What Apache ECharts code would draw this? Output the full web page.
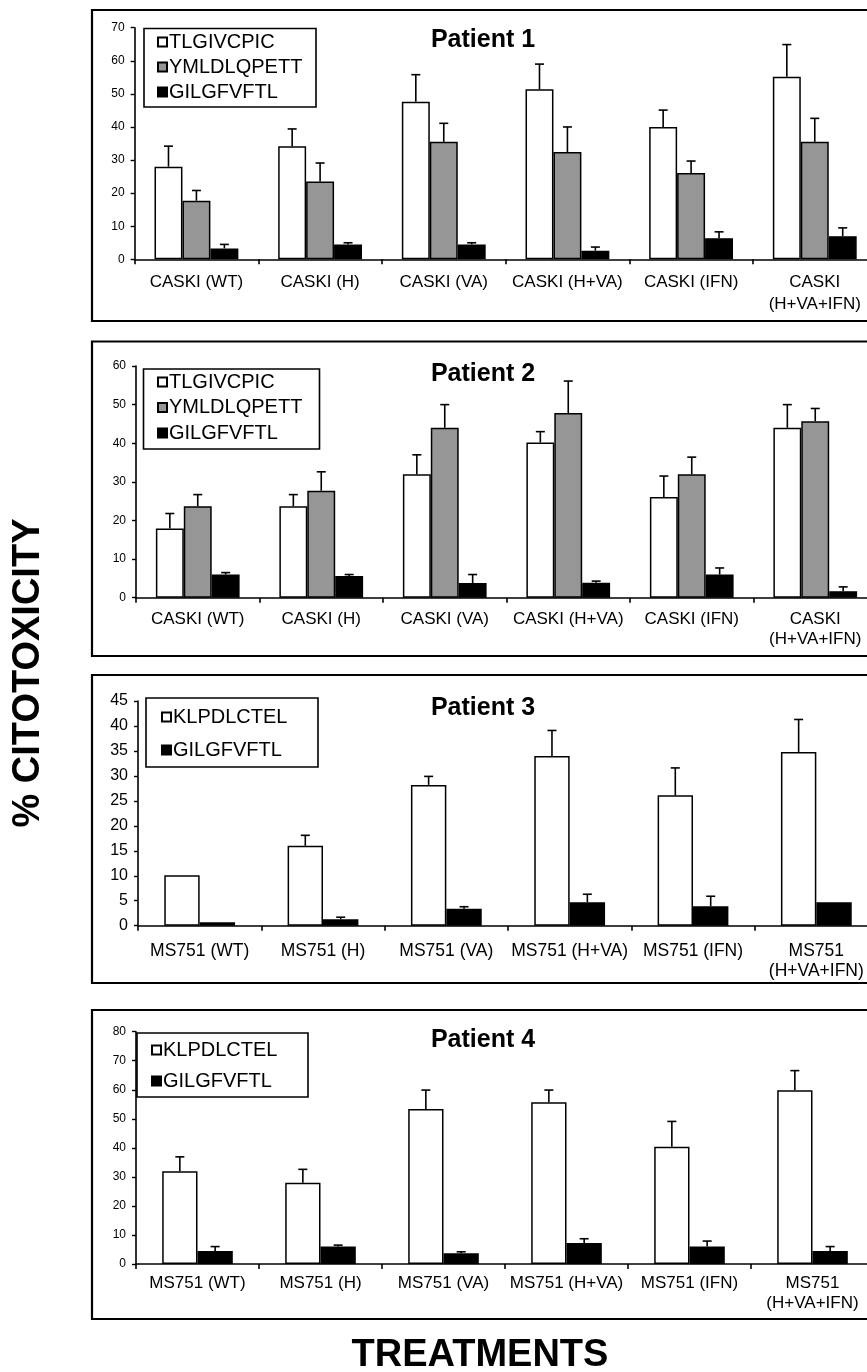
<!DOCTYPE html>
<html>
<head>
<meta charset="utf-8">
<script src="https://cdn.jsdelivr.net/npm/echarts@6/dist/echarts.min.js"></script>
<style>
html,body{margin:0;padding:0;background:#fff;overflow:hidden;}
#chart{width:867px;height:1372px;}
</style>
</head>
<body>
<div id="chart"></div>
<script>
// ---------- DATA ----------
const catsCaski = ['CASKI (WT)', 'CASKI (H)', 'CASKI (VA)', 'CASKI (H+VA)', 'CASKI (IFN)', 'CASKI\n(H+VA+IFN)'];
const catsMs751 = ['MS751 (WT)', 'MS751 (H)', 'MS751 (VA)', 'MS751 (H+VA)', 'MS751 (IFN)', 'MS751\n(H+VA+IFN)'];

const panelTitles = ['Patient 1', 'Patient 2', 'Patient 3', 'Patient 4'];
const yMax = [70, 60, 45, 80];
const yStep = [10, 10, 5, 10];

// Patient 1
const p1_TLGIVCPIC = [28, 34.2, 47.6, 51.4, 40, 55.2];
const p1_TLGIVCPIC_err = [6.2, 5.2, 8.2, 7.6, 5.1, 9.7];
const p1_YMLDLQPETT = [17.7, 23.5, 35.5, 32.4, 26.1, 35.5];
const p1_YMLDLQPETT_err = [3.1, 5.6, 5.6, 7.6, 3.6, 7.1];
const p1_GILGFVFTL = [3.3, 4.5, 4.5, 2.6, 6.4, 7.0];
const p1_GILGFVFTL_err = [1.2, 0.5, 0.5, 1.1, 1.9, 2.5];

// Patient 2
const p2_TLGIVCPIC = [17.9, 23.7, 32.0, 40.2, 26.1, 44.0];
const p2_TLGIVCPIC_err = [3.9, 3.0, 5.0, 2.8, 5.4, 6.0];
const p2_YMLDLQPETT = [23.7, 27.7, 44.0, 47.8, 32.0, 45.7];
const p2_YMLDLQPETT_err = [3.0, 4.9, 6.0, 8.3, 4.4, 3.3];
const p2_GILGFVFTL = [6.0, 5.6, 3.8, 3.9, 6.0, 1.7];
const p2_GILGFVFTL_err = [0.5, 0.4, 2.2, 0.4, 1.7, 1.1];

// Patient 3
const p3_KLPDLCTEL = [10.1, 16.0, 28.2, 34.0, 26.1, 34.8];
const p3_KLPDLCTEL_err = [0, 2.1, 1.7, 5.1, 5.5, 6.5];
const p3_GILGFVFTL = [0.7, 1.3, 3.4, 4.7, 3.9, 4.7];
const p3_GILGFVFTL_err = [0, 0.4, 0.4, 1.6, 2.0, 0];

// Patient 4
const p4_KLPDLCTEL = [31.9, 28.0, 53.4, 55.7, 40.4, 59.8];
const p4_KLPDLCTEL_err = [5.0, 4.6, 6.5, 4.2, 8.7, 6.8];
const p4_GILGFVFTL = [4.5, 6.0, 3.7, 7.2, 6.0, 4.5];
const p4_GILGFVFTL_err = [1.5, 0.5, 0.5, 1.5, 1.9, 1.5];

const yAxisTitle = '% CITOTOXICITY';
const xAxisTitle = 'TREATMENTS';

// ---------- STYLE / LAYOUT ----------
const FONT = 'Liberation Sans, Arial, Helvetica, sans-serif';
const fills = {TLGIVCPIC: '#ffffff', YMLDLQPETT: '#969696', KLPDLCTEL: '#ffffff', GILGFVFTL: '#000000'};

const panels = [
  {cats: catsCaski, series: [['TLGIVCPIC', p1_TLGIVCPIC, p1_TLGIVCPIC_err], ['YMLDLQPETT', p1_YMLDLQPETT, p1_YMLDLQPETT_err], ['GILGFVFTL', p1_GILGFVFTL, p1_GILGFVFTL_err]],
   grid: {left: 134.6, top: 27.7, width: 742, height: 231.6}, box: [10, 321], barPct: 0.226,
   yFont: 12, yMargin: 10, xFont: 17, xLH: 22, xMargin: 12, titleY: 36,
   legend: {box: [144, 28.5, 172, 78.5], left: 157, top: 32, gap: 5, font: 20}},
  {cats: catsCaski, series: [['TLGIVCPIC', p2_TLGIVCPIC, p2_TLGIVCPIC_err], ['YMLDLQPETT', p2_YMLDLQPETT, p2_YMLDLQPETT_err], ['GILGFVFTL', p2_GILGFVFTL, p2_GILGFVFTL_err]],
   grid: {left: 136, top: 366, width: 741, height: 231.7}, box: [341.5, 656], barPct: 0.226,
   yFont: 12, yMargin: 10, xFont: 17, xLH: 20, xMargin: 12, titleY: 370,
   legend: {box: [143.5, 369, 176, 80], left: 157, top: 372, gap: 5.5, font: 20}},
  {cats: catsMs751, series: [['KLPDLCTEL', p3_KLPDLCTEL, p3_KLPDLCTEL_err], ['GILGFVFTL', p3_GILGFVFTL, p3_GILGFVFTL_err]],
   grid: {left: 138, top: 701, width: 740, height: 224.7}, box: [675, 983], barPct: 0.287,
   yFont: 16, yMargin: 10, xFont: 17.5, xLH: 20, xMargin: 15, titleY: 704,
   legend: {box: [146, 698, 172, 69], left: 161, top: 707, gap: 13, font: 20}},
  {cats: catsMs751, series: [['KLPDLCTEL', p4_KLPDLCTEL, p4_KLPDLCTEL_err], ['GILGFVFTL', p4_GILGFVFTL, p4_GILGFVFTL_err]],
   grid: {left: 136, top: 1031.7, width: 738, height: 232.3}, box: [1010, 1319], barPct: 0.287,
   yFont: 12, yMargin: 10, xFont: 17, xLH: 20, xMargin: 9, titleY: 1036,
   legend: {box: [137, 1033, 171, 64], left: 151, top: 1040, gap: 11, font: 20}}
];

function errRenderer(si, n, pct) {
  return function (params, api) {
    const cat = api.value(0), v = api.value(1), e = api.value(2);
    if (!(e > 0)) return null;
    const band = api.size([1, 0])[0];
    const bw = band * pct;
    const p0 = api.coord([cat, v]);
    const p1 = api.coord([cat, v + e]);
    const x = p0[0] + (si - (n - 1) / 2) * bw;
    const st = {stroke: '#000', lineWidth: 1.6};
    return {type: 'group', children: [
      {type: 'line', shape: {x1: x, y1: p0[1], x2: x, y2: p1[1]}, style: st},
      {type: 'line', shape: {x1: x - 4.5, y1: p1[1], x2: x + 4.5, y2: p1[1]}, style: st}
    ]};
  };
}

const option = {
  animation: false,
  backgroundColor: '#fff',
  textStyle: {fontFamily: FONT, color: '#000'},
  grid: [], xAxis: [], yAxis: [], series: [], legend: [], title: [], graphic: []
};

panels.forEach((p, i) => {
  option.grid.push(Object.assign({outerBoundsMode: 'none', containLabel: false}, p.grid));
  option.xAxis.push({
    type: 'category', gridIndex: i, data: p.cats, boundaryGap: true,
    axisLine: {lineStyle: {color: '#000', width: 1.6}},
    axisTick: {show: true, length: 5, inside: false, alignWithLabel: false, interval: 0, lineStyle: {color: '#000', width: 1.6}},
    axisLabel: {interval: 0, color: '#000', fontSize: p.xFont, fontFamily: FONT, lineHeight: p.xLH, margin: p.xMargin},
    splitLine: {show: false}
  });
  option.yAxis.push({
    type: 'value', gridIndex: i, min: 0, max: yMax[i], interval: yStep[i],
    axisLine: {show: true, lineStyle: {color: '#000', width: 1.6}},
    axisTick: {show: true, length: 4, lineStyle: {color: '#000', width: 1.4}},
    axisLabel: {color: '#000', fontSize: p.yFont, fontFamily: FONT, margin: p.yMargin},
    splitLine: {show: false}
  });
  const n = p.series.length;
  p.series.forEach((s, si) => {
    option.series.push({
      type: 'bar', name: s[0], xAxisIndex: i, yAxisIndex: i, data: s[1],
      barWidth: (p.barPct * 100) + '%', barGap: '0%',
      itemStyle: {color: fills[s[0]], borderColor: '#000', borderWidth: 1.5},
      emphasis: {disabled: true}, z: 2
    });
  });
  p.series.forEach((s, si) => {
    option.series.push({
      type: 'custom', name: 'err' + i + '_' + si, xAxisIndex: i, yAxisIndex: i,
      data: s[1].map((v, k) => [k, v, s[2][k]]),
      encode: {x: 0, y: 1},
      renderItem: errRenderer(si, n, p.barPct), z: 3, silent: true
    });
  });
  option.legend.push({
    orient: 'vertical', left: p.legend.left, top: p.legend.top, padding: 0,
    itemGap: p.legend.gap, itemWidth: 9, itemHeight: 9, icon: 'rect',
    data: p.series.map(s => s[0]), selectedMode: false,
    textStyle: {fontSize: p.legend.font, fontFamily: FONT, color: '#000', lineHeight: 20, padding: [0, 0, 0, -3]}
  });
  option.title.push({
    text: panelTitles[i], left: 478, top: p.titleY - 13, textAlign: 'center',
    textStyle: {fontSize: 25, fontWeight: 'bold', fontFamily: FONT, color: '#000'}
  });
  // panel frame
  option.graphic.push({type: 'rect', shape: {x: 92, y: p.box[0], width: 820, height: p.box[1] - p.box[0]},
    style: {fill: null, stroke: '#000', lineWidth: 2.2}, silent: true, z: -1});
  // legend frame
  const lb = p.legend.box;
  option.graphic.push({type: 'rect', shape: {x: lb[0], y: lb[1], width: lb[2], height: lb[3]},
    style: {fill: null, stroke: '#000', lineWidth: 1.6}, silent: true, z: 1});
});

option.graphic.push({
  type: 'text', x: 29, y: 673, rotation: Math.PI / 2,
  style: {text: yAxisTitle, font: 'bold 38px ' + FONT, fill: '#000', textAlign: 'center', textVerticalAlign: 'middle'}
});
option.graphic.push({
  type: 'text', x: 480, y: 1356,
  style: {text: xAxisTitle, font: 'bold 38px ' + FONT, fill: '#000', textAlign: 'center', textVerticalAlign: 'middle'}
});

const chart = echarts.init(document.getElementById('chart'), null, {renderer: 'canvas'});
chart.setOption(option);
</script>
</body>
</html>
